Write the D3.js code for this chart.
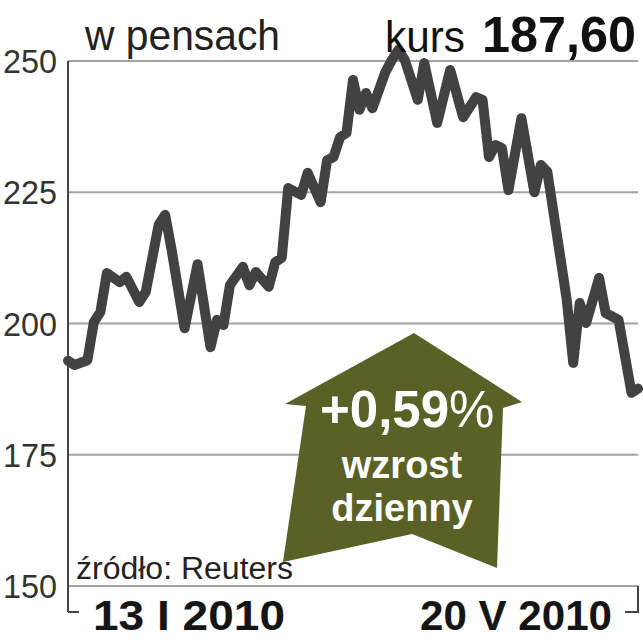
<!DOCTYPE html>
<html>
<head>
<meta charset="utf-8">
<script src="https://cdn.jsdelivr.net/npm/d3@7"></script>
<style>
  body { margin: 0; background: #fff; }
  text { font-family: "Liberation Sans", Arial, sans-serif; }
</style>
</head>
<body>
<div id="chart"></div>
<script>
// dane: kurs w pensach, indeks dnia sesyjnego od 13 I 2010 do 20 V 2010
var days = [0,1,3,4,5,6,8,9,11,12,14,15,16,18,20,22,23,24,25,27,28,29,31,32,33,34,36,37,39,40,
    41,42,43,44,45,46,47,49,50,51,52,54,55,57,59,61,63,64,65,66,67,68,70,72,73,74,76,77,78,79,
    80,82,83,85,87,88];
var kurs = [192.9,192.1,193.0,200.3,202.2,209.6,207.9,208.9,204.1,206.0,
    218.8,220.7,214.0,199.1,211.3,195.5,200.7,199.7,207.3,210.8,
    207.3,209.8,207.0,211.7,212.5,225.8,224.5,228.7,223.1,231.1,
    231.7,235.5,236.3,246.4,240.7,243.9,241.0,247.9,250.2,252.1,
    250.2,242.6,249.6,238.2,248.3,239.3,243.1,242.6,231.7,234.0,
    233.4,225.4,239.1,225.0,230.2,228.9,212.7,204.5,192.5,203.9,
    200.1,208.7,202.0,200.7,186.8,187.6];
var yTicks = [150, 175, 200, 225, 250];
var dateLabels = ["13 I 2010", "20 V 2010"];
var lastKurs = "187,60";
var change = "+0,59";

var W = 643, H = 640;
var margin = { top: 61, right: 5, bottom: 54, left: 68 };

var svg = d3.select("#chart")
    .append("svg")
    .attr("width", W)
    .attr("height", H);

var x = d3.scaleLinear()
    .domain([0, 88])
    .range([margin.left, W - margin.right]);

var y = d3.scaleLinear()
    .domain([150, 250])
    .range([H - margin.bottom, margin.top]);

// linie siatki
svg.append("g")
    .selectAll("line")
    .data(yTicks)
    .enter().append("line")
    .attr("x1", margin.left)
    .attr("x2", W - margin.right)
    .attr("y1", function (d) { return y(d); })
    .attr("y2", function (d) { return y(d); })
    .attr("stroke", "#a3a3a3")
    .attr("stroke-width", 2);

// os Y z opisami
svg.append("g")
    .selectAll("text")
    .data(yTicks)
    .enter().append("text")
    .attr("x", 57)
    .attr("y", function (d) { return y(d); })
    .attr("dy", "0.36em")
    .attr("text-anchor", "end")
    .attr("font-size", 34)
    .attr("fill", "#333")
    .attr("textLength", 54).attr("lengthAdjust", "spacingAndGlyphs")
    .text(function (d) { return d; });

svg.append("line")
    .attr("x1", margin.left).attr("x2", margin.left)
    .attr("y1", y(250)).attr("y2", y(150) + 26)
    .attr("stroke", "#444").attr("stroke-width", 2);
svg.append("line")
    .attr("x1", margin.left).attr("x2", margin.left + 11)
    .attr("y1", y(150) + 26).attr("y2", y(150) + 26)
    .attr("stroke", "#444").attr("stroke-width", 2);
// nawias po prawej
svg.append("path")
    .attr("d", "M" + (W - margin.right - 13) + "," + (y(150) + 26) +
        "H" + (W - margin.right) + "V" + y(150))
    .attr("fill", "none")
    .attr("stroke", "#444").attr("stroke-width", 2);

// daty
svg.append("text")
    .attr("x", 93).attr("y", 630)
    .attr("font-size", 42).attr("font-weight", "bold")
    .attr("fill", "#151515")
    .attr("textLength", 192).attr("lengthAdjust", "spacingAndGlyphs")
    .text(dateLabels[0]);
svg.append("text")
    .attr("x", 420).attr("y", 630)
    .attr("font-size", 42).attr("font-weight", "bold")
    .attr("fill", "#151515")
    .attr("textLength", 192).attr("lengthAdjust", "spacingAndGlyphs")
    .text(dateLabels[1]);

// zrodlo
svg.append("text")
    .attr("x", 76).attr("y", 579)
    .attr("font-size", 31)
    .attr("fill", "#222")
    .attr("textLength", 217).attr("lengthAdjust", "spacingAndGlyphs")
    .text("źródło: Reuters");

// strzalka
var arrow = [[414, 333], [522, 402], [503, 408], [497, 568], [412, 534],
    [283, 562], [306, 406], [285, 404]];
svg.append("polygon")
    .attr("points", arrow.map(function (p) { return p.join(","); }).join(" "))
    .attr("fill", "#5a6127");

var pct = svg.append("text")
    .attr("x", 320).attr("y", 427)
    .attr("font-size", 51)
    .attr("fill", "#fff");
pct.append("tspan").attr("font-weight", "bold").text(change);
pct.append("tspan").text("%");

svg.append("text")
    .attr("x", 402).attr("y", 478)
    .attr("text-anchor", "middle")
    .attr("font-size", 38).attr("font-weight", "bold")
    .attr("fill", "#fff")
    .text("wzrost");
svg.append("text")
    .attr("x", 402).attr("y", 521)
    .attr("text-anchor", "middle")
    .attr("font-size", 38).attr("font-weight", "bold")
    .attr("fill", "#fff")
    .text("dzienny");

// linia kursu
var line = d3.line()
    .x(function (d) { return x(d[0]); })
    .y(function (d) { return y(d[1]); });

svg.append("path")
    .datum(days.map(function (d, i) { return [d, kurs[i]]; }))
    .attr("d", line)
    .attr("fill", "none")
    .attr("stroke", "#424242")
    .attr("stroke-width", 10)
    .attr("stroke-linejoin", "round")
    .attr("stroke-linecap", "round");

// naglowek
svg.append("text")
    .attr("x", 85).attr("y", 50)
    .attr("font-size", 43)
    .attr("fill", "#222")
    .attr("textLength", 195).attr("lengthAdjust", "spacingAndGlyphs")
    .text("w pensach");

svg.append("text")
    .attr("x", 385).attr("y", 52)
    .attr("font-size", 44)
    .attr("fill", "#111")
    .attr("textLength", 80).attr("lengthAdjust", "spacingAndGlyphs")
    .text("kurs");
svg.append("text")
    .attr("x", 482).attr("y", 52)
    .attr("font-size", 50).attr("font-weight", "bold")
    .attr("fill", "#111")
    .attr("textLength", 154).attr("lengthAdjust", "spacingAndGlyphs")
    .text(lastKurs);
</script>
</body>
</html>
